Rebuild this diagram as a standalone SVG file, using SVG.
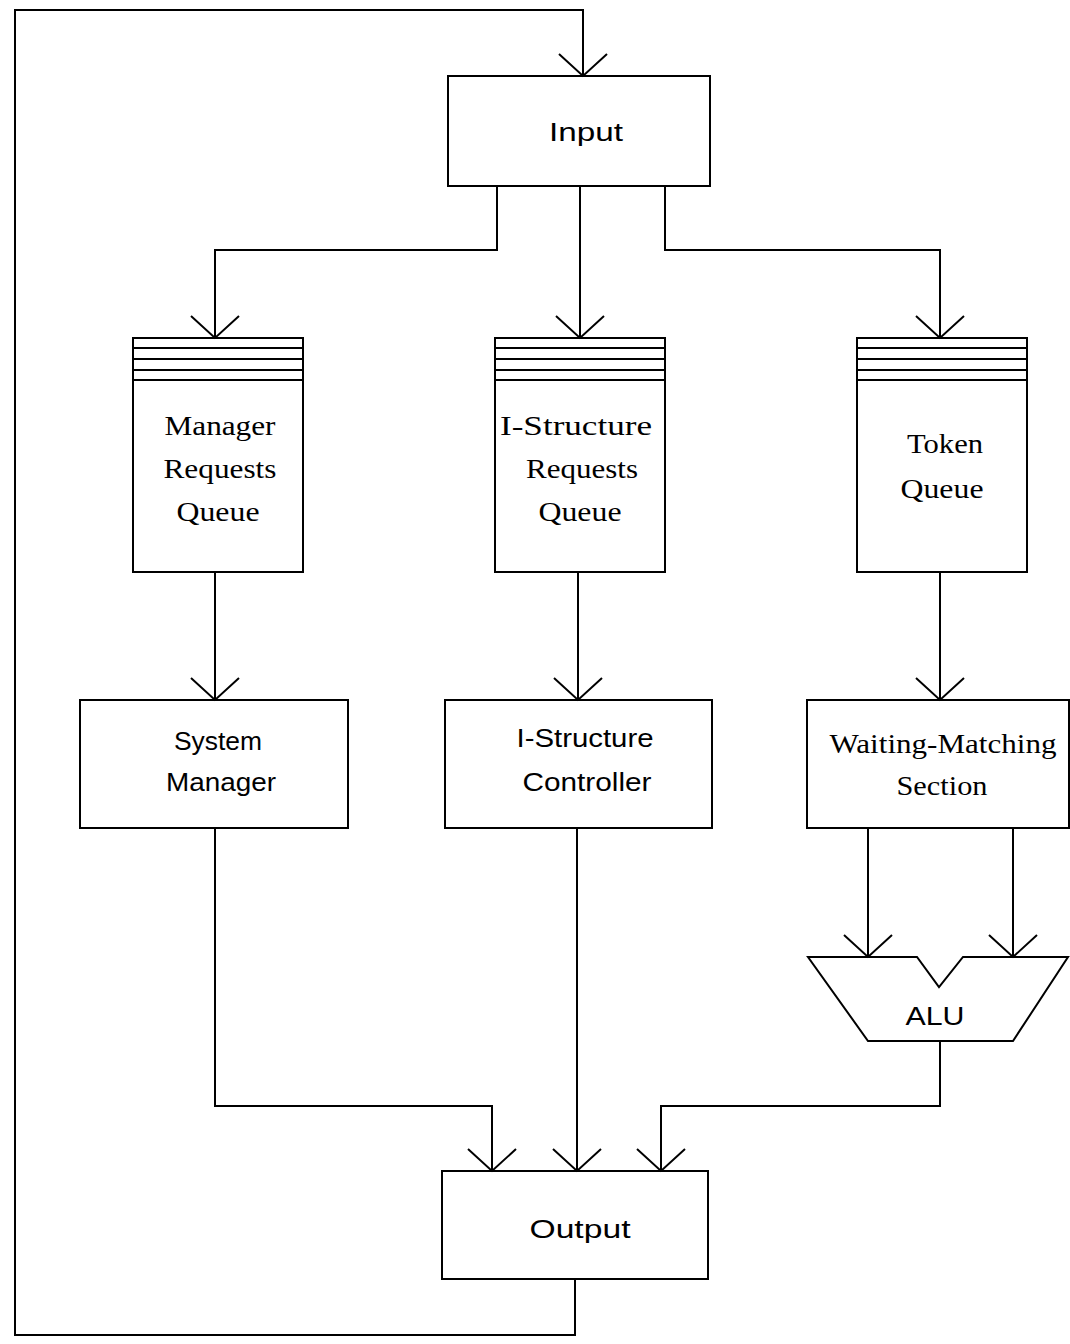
<svg xmlns="http://www.w3.org/2000/svg" width="1070" height="1344" viewBox="0 0 1070 1344">
<style>
.box{fill:none;stroke:#000;stroke-width:2}
.ln{fill:none;stroke:#000;stroke-width:2}
.serif{font-family:"Liberation Serif","Times New Roman",serif;font-size:27px;fill:#000;text-anchor:middle}
.sans{font-family:"Liberation Sans",Arial,sans-serif;font-size:26px;fill:#000;text-anchor:middle}
</style>
<defs>
<marker id="v" markerUnits="userSpaceOnUse" markerWidth="60" markerHeight="60" refX="0" refY="0" viewBox="-30 -30 60 60" orient="auto" overflow="visible">
<path d="M-22,-24 L0,0 L-22,24" fill="none" stroke="#000" stroke-width="2"/>
</marker>
</defs>
<rect width="1070" height="1344" fill="#fff"/>
<g id="connectors">
<path class="ln" d="M575,1280 V1335 H15 V10 H583 V76" marker-end="url(#v)"/>
<path class="ln" d="M497,186 V250 H215 V338" marker-end="url(#v)"/>
<path class="ln" d="M580,186 V338" marker-end="url(#v)"/>
<path class="ln" d="M665,186 V250 H940 V338" marker-end="url(#v)"/>
<path class="ln" d="M215,572 V700" marker-end="url(#v)"/>
<path class="ln" d="M578,572 V700" marker-end="url(#v)"/>
<path class="ln" d="M940,572 V700" marker-end="url(#v)"/>
<path class="ln" d="M868,828 V957" marker-end="url(#v)"/>
<path class="ln" d="M1013,828 V957" marker-end="url(#v)"/>
<path class="ln" d="M215,828 V1106 H492 V1171" marker-end="url(#v)"/>
<path class="ln" d="M577,828 V1171" marker-end="url(#v)"/>
<path class="ln" d="M940,1041 V1106 H661 V1171" marker-end="url(#v)"/>
</g>
<g id="input">
<rect class="box" x="448" y="76" width="262" height="110"/>
<text class="sans" x="586" y="141" textLength="74" lengthAdjust="spacingAndGlyphs">Input</text>
</g>
<g id="manager-queue">
<rect class="box" x="133" y="338" width="170" height="234"/>
<path class="ln" d="M133,348 H303 M133,359 H303 M133,370 H303 M133,380 H303"/>
<text class="serif" x="220" y="435" textLength="111" lengthAdjust="spacingAndGlyphs">Manager</text>
<text class="serif" x="220" y="478" textLength="113" lengthAdjust="spacingAndGlyphs">Requests</text>
<text class="serif" x="218" y="521" textLength="83" lengthAdjust="spacingAndGlyphs">Queue</text>
</g>
<g id="istructure-queue">
<rect class="box" x="495" y="338" width="170" height="234"/>
<path class="ln" d="M495,348 H665 M495,359 H665 M495,370 H665 M495,380 H665"/>
<text class="serif" x="576" y="435" textLength="152" lengthAdjust="spacingAndGlyphs">I-Structure</text>
<text class="serif" x="582" y="478" textLength="112" lengthAdjust="spacingAndGlyphs">Requests</text>
<text class="serif" x="580" y="521" textLength="83" lengthAdjust="spacingAndGlyphs">Queue</text>
</g>
<g id="token-queue">
<rect class="box" x="857" y="338" width="170" height="234"/>
<path class="ln" d="M857,348 H1027 M857,359 H1027 M857,370 H1027 M857,380 H1027"/>
<text class="serif" x="945" y="453" textLength="76" lengthAdjust="spacingAndGlyphs">Token</text>
<text class="serif" x="942" y="498" textLength="83" lengthAdjust="spacingAndGlyphs">Queue</text>
</g>
<g id="system-manager">
<rect class="box" x="80" y="700" width="268" height="128"/>
<text class="sans" x="218" y="750" textLength="88" lengthAdjust="spacingAndGlyphs">System</text>
<text class="sans" x="221" y="791" textLength="110" lengthAdjust="spacingAndGlyphs">Manager</text>
</g>
<g id="istructure-controller">
<rect class="box" x="445" y="700" width="267" height="128"/>
<text class="sans" x="585" y="747" textLength="137" lengthAdjust="spacingAndGlyphs">I-Structure</text>
<text class="sans" x="587" y="791" textLength="129" lengthAdjust="spacingAndGlyphs">Controller</text>
</g>
<g id="waiting-matching">
<rect class="box" x="807" y="700" width="262" height="128"/>
<text class="serif" x="943" y="753" textLength="227" lengthAdjust="spacingAndGlyphs">Waiting-Matching</text>
<text class="serif" x="942" y="795" textLength="91" lengthAdjust="spacingAndGlyphs">Section</text>
</g>
<g id="alu">
<path class="box" d="M808,957 H917 L939,987 L963,957 H1068 L1013,1041 H868 Z"/>
<text class="sans" x="935" y="1025" font-size="27" textLength="59" lengthAdjust="spacingAndGlyphs">ALU</text>
</g>
<g id="output">
<rect class="box" x="442" y="1171" width="266" height="108"/>
<text class="sans" x="580" y="1238" textLength="101" lengthAdjust="spacingAndGlyphs">Output</text>
</g>
</svg>
